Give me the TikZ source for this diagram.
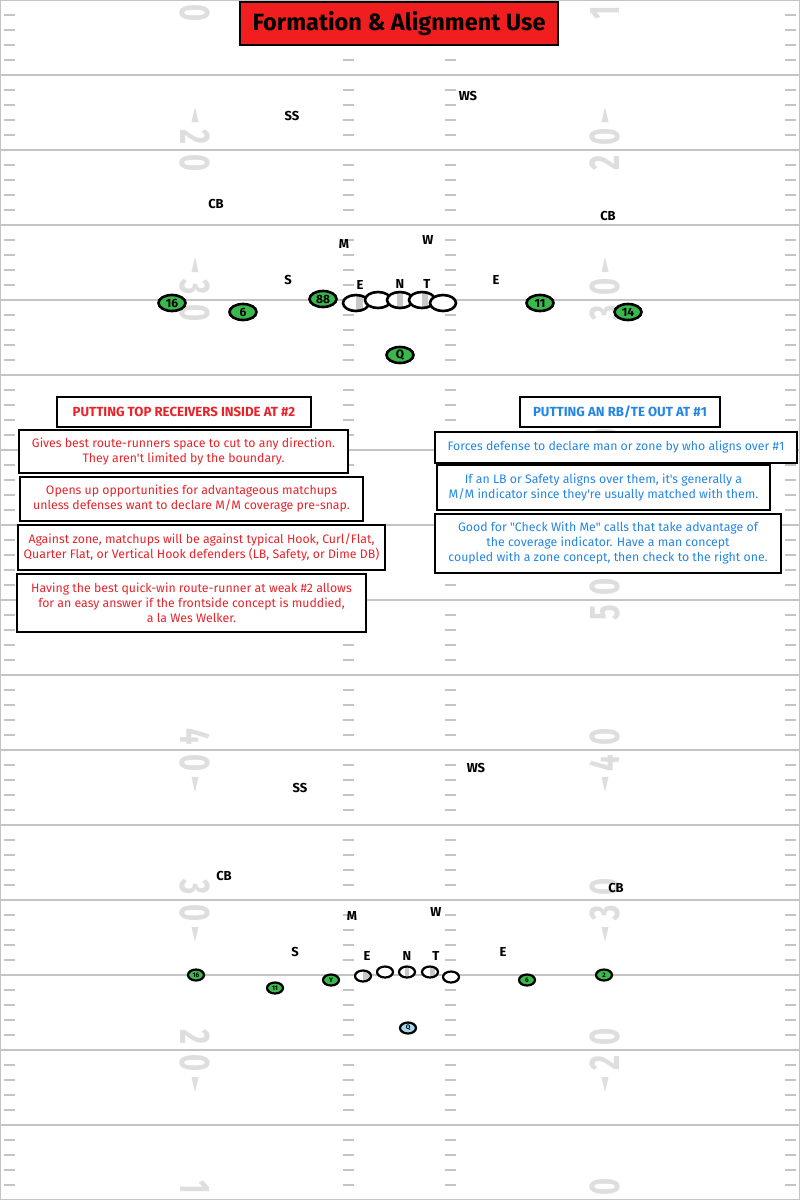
\documentclass[tikz,border=0pt]{standalone}
\usepackage{fontspec}
\setsansfont{Fira Sans}[Ligatures=TeXOff]
\renewcommand{\familydefault}{\sfdefault}
\usetikzlibrary{shapes.geometric}

\definecolor{yardgray}{RGB}{196,196,196}
\definecolor{numgray}{RGB}{222,222,222}
\definecolor{titlered}{RGB}{240,30,30}
\definecolor{notered}{RGB}{232,36,42}
\definecolor{noteblue}{RGB}{36,134,228}
\definecolor{rcvgreen}{RGB}{58,184,76}
\definecolor{qblue}{RGB}{168,216,240}
\definecolor{techgray}{RGB}{200,200,200}

\tikzset{
  yardline/.style={yardgray, line width=1.8pt},
  hashmark/.style={yardgray, line width=1.4pt},
  yardnum/.style={numgray, inner sep=0pt, font=\bfseries\fontsize{43}{43}\selectfont},
  player/.style={ellipse, draw=black, line width=2.6pt, fill=rcvgreen, inner sep=0pt,
    minimum width=27, minimum height=16, font=\bfseries\fontsize{12}{12}\selectfont},
  smallplayer/.style={player, line width=2.2pt, minimum width=16, minimum height=11,
    font=\bfseries\fontsize{6.5}{6.5}\selectfont},
  lineman/.style={ellipse, draw=black, line width=2.6pt, fill=white, inner sep=0pt,
    minimum width=26, minimum height=16},
  smalllineman/.style={lineman, line width=2.2pt, minimum width=16, minimum height=11},
  tech/.style 2 args={path picture={\fill[techgray]
    ([xshift=#1]path picture bounding box.north) rectangle
    ([xshift=#2]path picture bounding box.south);}},
  dlabel/.style={inner sep=0pt, font=\bfseries\fontsize{13}{13}\selectfont},
  notebox/.style={draw=black, line width=1.6pt, fill=white, align=center, inner sep=2pt,
    font=\fontsize{12.3}{15}\selectfont},
  headbox/.style={notebox, font=\bfseries\fontsize{13.2}{14}\selectfont}
}

\begin{document}
\begin{tikzpicture}[x=1pt, y=-1pt]
  \useasboundingbox (0,0) rectangle (800,1200);
  \fill[white] (0,0) rectangle (800,1200);

  % field
  \foreach \k in {0,...,16}
    \draw[yardline] (0,75*\k) -- (800,75*\k);
  \draw[yardgray, line width=1pt] (0.5,0) -- (0.5,1200) (799.5,0) -- (799.5,1200);
  \foreach \k in {0,...,15}
    \foreach \j in {1,...,4}
      \foreach \xa in {4,343,445,785}
        \draw[hashmark] (\xa,75*\k+15*\j) -- ++(11,0);

  % yard numbers
  \foreach \yl/\da/\db in {0/1/0, 150/2/0, 300/3/0, 450/4/0, 600/5/0, 750/4/0, 900/3/0, 1050/2/0, 1200/1/0} {
    \node[yardnum, rotate=-90] (la\yl) at (195,\yl-13) {\scalebox{0.68}[1]{\da}};
    \node[yardnum, rotate=-90] (lb\yl) at (195,\yl+13) {\scalebox{0.68}[1]{\db}};
    \node[yardnum, rotate=90] (ra\yl) at (605,\yl+13) {\scalebox{0.68}[1]{\da}};
    \node[yardnum, rotate=90] (rb\yl) at (605,\yl-13) {\scalebox{0.68}[1]{\db}};
  }
  \foreach \yl in {150,300,450}
    \foreach \xa in {195,605}
      \fill[numgray] (\xa,\yl-43) -- (\xa-3.5,\yl-28) -- (\xa+3.5,\yl-28) -- cycle;
  \foreach \yl in {750,900,1050}
    \foreach \xa in {195,605}
      \fill[numgray] (\xa,\yl+42) -- (\xa-3.5,\yl+27) -- (\xa+3.5,\yl+27) -- cycle;

  % title
  \node[draw=black, line width=1.5pt, fill=titlered, minimum width=318, minimum height=43,
    font=\bfseries\fontsize{23.5}{23.5}\selectfont] (title) at (399,23.5) {Formation \& Alignment Use};

  % top formation: defense
  \node[dlabel] (ss1) at (292,116) {SS};
  \node[dlabel] (ws1) at (468,96) {WS};
  \node[dlabel] (cbl1) at (216,204) {CB};
  \node[dlabel] (cbr1) at (608,216) {CB};
  \node[dlabel] (m1) at (344,244) {M};
  \node[dlabel] (w1) at (428,240) {W};
  \node[dlabel] (s1) at (288,280) {S};
  \node[dlabel] (el1) at (360,285) {E};
  \node[dlabel] (n1) at (400,284) {N};
  \node[dlabel] (t1) at (427,284) {T};
  \node[dlabel] (er1) at (496,280) {E};

  % top formation: offense
  \node[lineman, tech={0pt}{7pt}] (lt1) at (356,303) {};
  \node[lineman] (lg1) at (378,300) {};
  \node[lineman, tech={-3pt}{3pt}] (c1) at (400,300) {};
  \node[lineman, tech={0pt}{6pt}] (rg1) at (422,300) {};
  \node[lineman] (rt1) at (443,303) {};
  \node[player] (p16a) at (172,303) {16};
  \node[player] (p6a) at (243,312) {6};
  \node[player] (p88a) at (323,299) {88};
  \node[player] (p11a) at (540,303) {11};
  \node[player] (p14a) at (628,312) {14};
  \node[player] (qa) at (400,355) {Q};

  % notes left
  \node[headbox, text=notered, minimum width=254, minimum height=30] (headl) at (184,412) {PUTTING TOP RECEIVERS INSIDE AT \#2};
  \node[notebox, text=notered, minimum width=329, minimum height=43] (notel1) at (183.5,451.5)
    {Gives best route-runners space to cut to any direction.\\They aren't limited by the boundary.};
  \node[notebox, text=notered, minimum width=343, minimum height=44] (notel2) at (191.5,499)
    {Opens up opportunities for advantageous matchups\\unless defenses want to declare M/M coverage pre-snap.};
  \node[notebox, text=notered, minimum width=367, minimum height=45] (notel3) at (201.5,547.5)
    {Against zone, matchups will be against typical Hook, Curl/Flat,\\Quarter Flat, or Vertical Hook defenders (LB, Safety, or Dime DB)};
  \node[notebox, text=notered, minimum width=349, minimum height=58] (notel4) at (191.5,603)
    {Having the best quick-win route-runner at weak \#2 allows\\for an easy answer if the frontside concept is muddied,\\a la Wes Welker.};

  % notes right
  \node[headbox, text=noteblue, minimum width=200, minimum height=30] (headr) at (620,412) {PUTTING AN RB/TE OUT AT \#1};
  \node[notebox, text=noteblue, minimum width=362, minimum height=31] (noter1) at (616,447.5)
    {Forces defense to declare man or zone by who aligns over \#1};
  \node[notebox, text=noteblue, minimum width=333, minimum height=45] (noter2) at (603.5,487.5)
    {If an LB or Safety aligns over them, it's generally a\\M/M indicator since they're usually matched with them.};
  \node[notebox, text=noteblue, minimum width=346, minimum height=59] (noter3) at (608,543.5)
    {Good for "Check With Me" calls that take advantage of\\the coverage indicator. Have a man concept\\coupled with a zone concept, then check to the right one.};

  % bottom formation: defense
  \node[dlabel] (ss2) at (300,788) {SS};
  \node[dlabel] (ws2) at (476,768) {WS};
  \node[dlabel] (cbl2) at (224,876) {CB};
  \node[dlabel] (cbr2) at (616,888) {CB};
  \node[dlabel] (m2) at (352,916) {M};
  \node[dlabel] (w2) at (436,912) {W};
  \node[dlabel] (s2) at (295,952) {S};
  \node[dlabel] (el2) at (367,956) {E};
  \node[dlabel] (n2) at (407,956) {N};
  \node[dlabel] (t2) at (436,956) {T};
  \node[dlabel] (er2) at (503,952) {E};

  % bottom formation: offense
  \node[smalllineman, tech={0pt}{6pt}] (lt2) at (363,976) {};
  \node[smalllineman] (lg2) at (385,972) {};
  \node[smalllineman, tech={-2pt}{2pt}] (c2) at (407,972) {};
  \node[smalllineman, tech={0pt}{5pt}] (rg2) at (430,972) {};
  \node[smalllineman] (rt2) at (451,977) {};
  \node[smallplayer] (p16b) at (196,975) {16};
  \node[smallplayer] (p11b) at (275,988) {11};
  \node[smallplayer] (pyb) at (331,980) {Y};
  \node[smallplayer] (p6b) at (527,980) {6};
  \node[smallplayer] (p2b) at (604,975) {2};
  \node[smallplayer, fill=qblue] (qb) at (408,1028) {Q};
\end{tikzpicture}
\end{document}
